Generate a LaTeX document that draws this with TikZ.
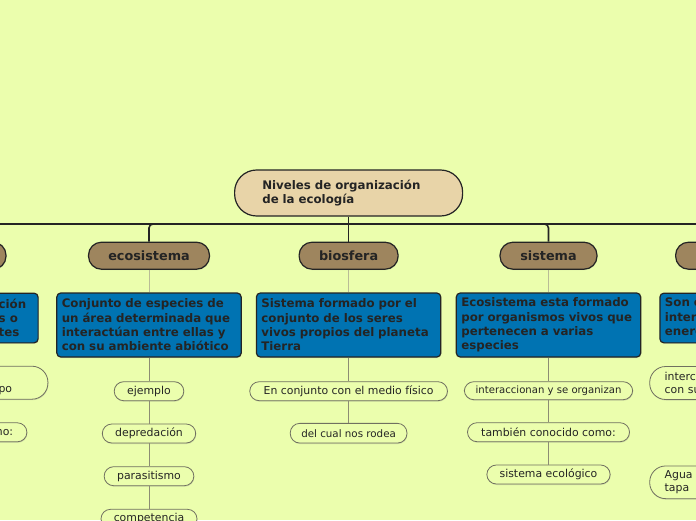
\documentclass[tikz,border=0pt]{standalone}
\usepackage{fontspec}
\setmainfont{DejaVu Sans}
\usetikzlibrary{shadows}
\definecolor{fondo}{RGB}{235,254,173}
\definecolor{raiz}{RGB}{232,212,168}
\definecolor{rama}{RGB}{158,133,94}
\definecolor{azul}{RGB}{0,115,178}
\definecolor{tinta}{RGB}{36,36,36}
\definecolor{lineaclara}{RGB}{185,188,150}
\definecolor{lineapill}{RGB}{140,140,115}
\definecolor{bordepill}{RGB}{112,112,96}
\begin{document}
\begin{tikzpicture}[x=1pt,y=-1pt,
	sombra/.style={drop shadow={opacity=0.25,shadow xshift=0.5pt,shadow yshift=-1pt}},
	raizbox/.style={draw=tinta,line width=1.2pt,fill=raiz,rounded corners=22pt,text=tinta,font=\fontsize{11.8}{14}\selectfont\bfseries,align=left,text width=172.6pt,inner xsep=27.7pt,minimum height=46pt},
	ramabox/.style={draw=tinta,line width=1.2pt,fill=rama,rounded corners=13pt,text=tinta,font=\fontsize{12.8}{15}\selectfont\bfseries,minimum height=27pt,inner sep=0pt,sombra},
	azulbox/.style={draw=tinta,line width=1.2pt,fill=azul,rounded corners=4pt,text=tinta,font=\fontsize{11.8}{14.3}\selectfont\bfseries,align=left,text width=174.4pt,inner xsep=5pt,minimum height=64pt,sombra},
	pill/.style={draw=bordepill,line width=0.8pt,fill=fondo,rounded corners=9.5pt,text=tinta,font=\fontsize{10.9}{13.3}\selectfont,minimum height=19pt,inner sep=0pt,sombra},
	pilldoble/.style={pill,minimum height=33pt,rounded corners=16pt},
	suelto/.style={inner sep=0pt,text=tinta},
	barra/.style={draw=tinta,line width=1.6pt,rounded corners=4pt},
	hilo/.style={draw=lineaclara,line width=1pt},
	hilopill/.style={draw=lineapill,line width=1pt}]
	\useasboundingbox (0,0) rectangle (696,520);
	\fill[fondo] (0,0) rectangle (696,520);
	\clip (0,0) rectangle (696,520);
	% raiz y ramas
	\node[raizbox] (raiz) at (348.6,193) {Niveles de organización\\de la ecología};
	\coordinate (nudo) at (348.6,224);
	\node[ramabox,minimum width=114pt] (lrama) at (-51,255.7) {};
	\node[ramabox,minimum width=121pt] (ecosistema) at (149,255.7) {ecosistema};
	\node[ramabox,minimum width=99pt] (biosfera) at (348.6,255.7) {biosfera};
	\node[ramabox,minimum width=97pt] (sistema) at (548.5,255.7) {sistema};
	\node[ramabox,anchor=west,text width=128pt,inner xsep=20pt,align=left] (rrama) at (675,255.7) {s};
	\draw[barra] (raiz.south) -- (biosfera.north);
	\foreach \r in {lrama,ecosistema,sistema,rrama}
		\draw[barra] (nudo) -| (\r.north);
	% definiciones
	\node[azulbox,anchor=east,minimum height=49.7pt] (ldef) at (38.7,318) {};
	\node[suelto,anchor=west,align=left,font=\fontsize{11.8}{14.3}\selectfont\bfseries] (ldeftxt) at (-1.5,318) {ción\\s o\\tes};
	\node[azulbox] (ecodef) at (149,325) {Conjunto de especies de\\un área determinada que\\interactúan entre ellas y\\con su ambiente abiótico};
	\node[azulbox] (biodef) at (348.6,325) {Sistema formado por el\\conjunto de los seres\\vivos propios del planeta\\Tierra};
	\node[azulbox] (sisdef) at (548.5,325) {Ecosistema esta formado\\por organismos vivos que\\pertenecen a varias\\especies};
	\node[azulbox,anchor=west,minimum height=49.7pt] (rdef) at (659.3,318) {Son e\\inter\\energ};
	\draw[hilo] (ecosistema) -- (ecodef);
	\draw[hilo] (biosfera) -- (biodef);
	\draw[hilo] (sistema) -- (sisdef);
	% hojas
	\node[pilldoble,anchor=east,minimum width=200pt] (lpill1) at (48.3,382.7) {};
	\node[suelto,anchor=east,font=\fontsize{10.9}{13.3}\selectfont] (lpilltxt1) at (12.3,390.3) {po};
	\node[pill,anchor=east,minimum width=120pt] (lpill2) at (27.3,432.3) {};
	\node[suelto,anchor=east,font=\fontsize{10.9}{13.3}\selectfont] (lpilltxt2) at (13.3,432.5) {mo:};
	\node[pill,minimum width=69.6pt] (ejemplo) at (149,391.2) {ejemplo};
	\node[pill,minimum width=93.4pt] (depredacion) at (149,433.5) {depredación};
	\node[pill,minimum width=89.7pt] (parasitismo) at (149,476.2) {parasitismo};
	\node[pill,minimum width=96pt] (competencia) at (149,518.8) {competencia};
	\node[pill,minimum width=197.7pt] (medio) at (348.6,391.2) {En conjunto con el medio físico};
	\node[pill,minimum width=116.7pt,minimum height=19.7pt,font=\fontsize{10.3}{12}\selectfont] (rodea) at (348.6,433.2) {del cual nos rodea};
	\node[pill,minimum width=168.4pt,minimum height=18pt,font=\fontsize{10.1}{12}\selectfont] (interaccionan) at (548.5,390.7) {interaccionan y se organizan};
	\node[pill,minimum width=162pt] (conocido) at (548.5,432.2) {también conocido como:};
	\node[pill,minimum width=123.3pt] (ecologico) at (548.5,474.5) {sistema ecológico};
	\node[pilldoble,anchor=west,text width=80pt,inner xsep=15pt,align=left] (rpill1) at (649.3,383) {interc\\con su};
	\node[pilldoble,anchor=west,text width=80pt,inner xsep=15pt,align=left,minimum height=32.7pt] (rpill2) at (649.3,482.3) {Agua\\tapa};
	\foreach \a/\b in {ecodef/ejemplo,ejemplo/depredacion,depredacion/parasitismo,parasitismo/competencia,biodef/medio,medio/rodea,sisdef/interaccionan,interaccionan/conocido,conocido/ecologico}
		\draw[hilopill] (\a) -- (\b);
\end{tikzpicture}
\end{document}
